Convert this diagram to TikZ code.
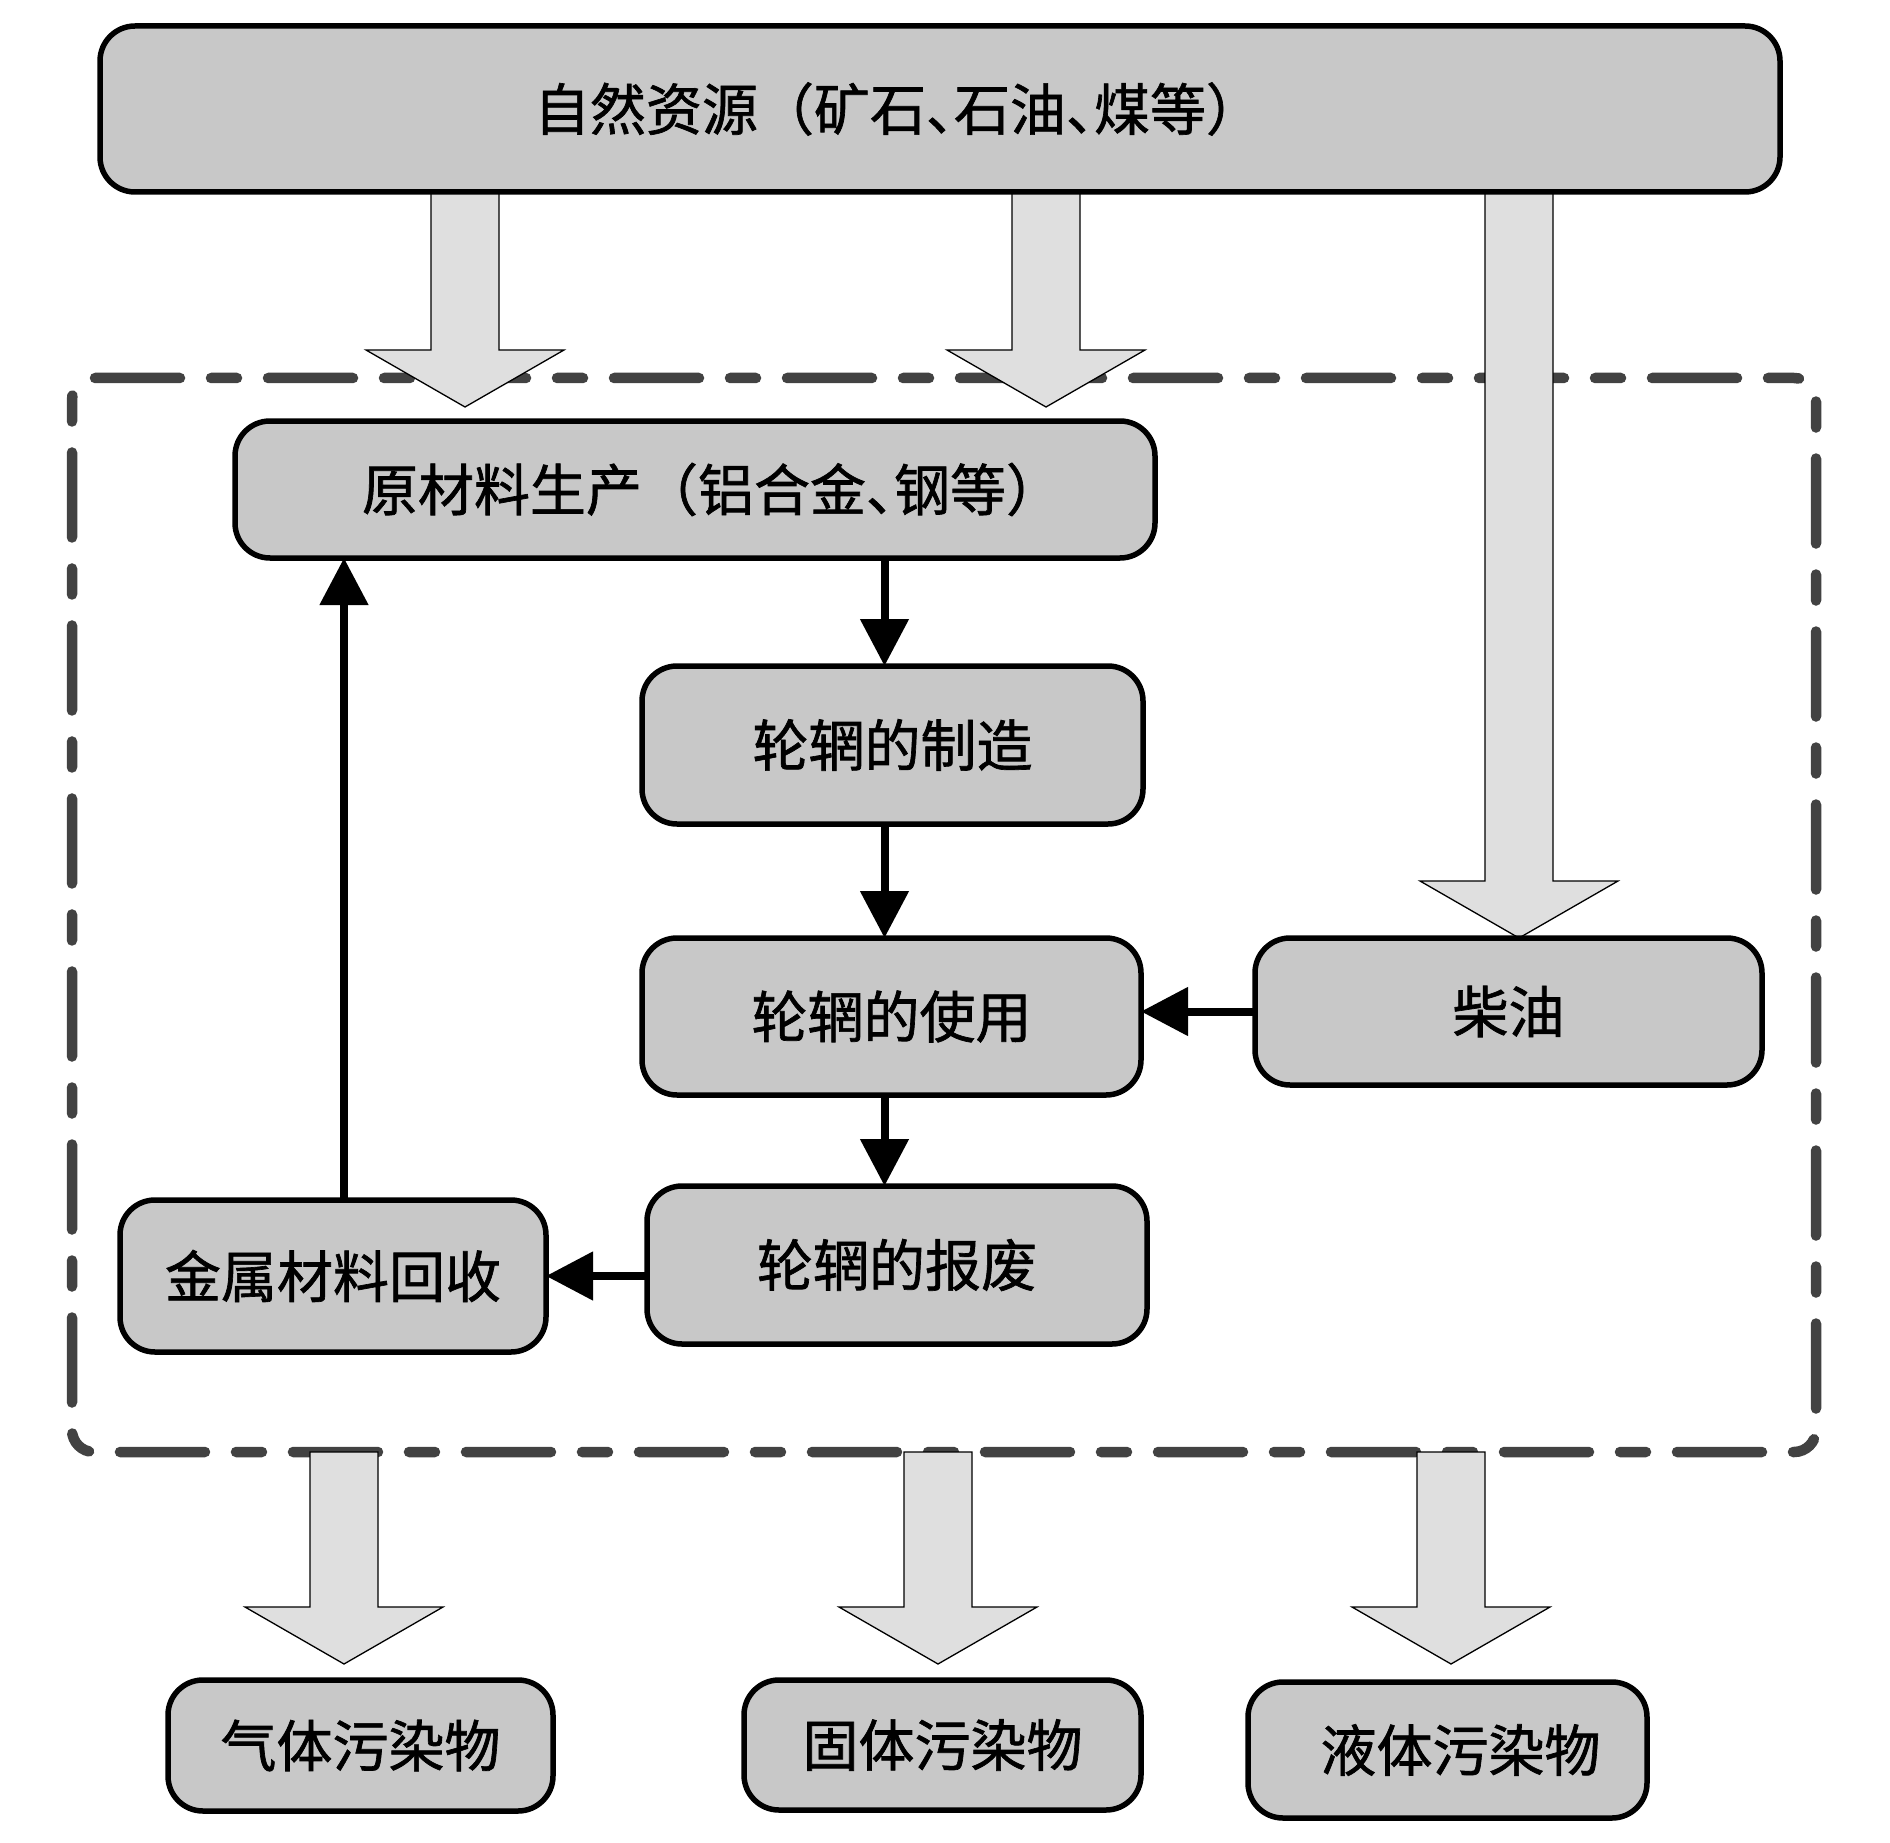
\documentclass[tikz,border=0pt]{standalone}
\usepackage{fontspec}
\newfontfamily\cjk[FakeBold=1.2]{Noto Sans CJK SC}
\usetikzlibrary{arrows.meta,calc}
\definecolor{boxgray}{RGB}{200,200,200}
\definecolor{arrgray}{RGB}{223,223,223}
\definecolor{dashgray}{RGB}{66,66,66}
\newcommand\dun{\makebox[0.5em][l]{、}}
\newcommand\tsh[2]{\makebox[0pt]{\hspace*{#1}#2}}
\newcommand\barrow[2]{%
  \path[blk] let \p1=(#1), \p2=(#2) in
    (\x1-34pt,\y1) -- (\x1-34pt,\y2+57pt) -- (\x1-99pt,\y2+57pt) -- (\x2,\y2)
    -- (\x1+99pt,\y2+57pt) -- (\x1+34pt,\y2+57pt) -- (\x1+34pt,\y1) -- cycle;}
\begin{document}
\begin{tikzpicture}[x=1pt,y=-1pt,
  box/.style={draw=black, line width=5.5pt, fill=boxgray, rounded corners=35pt,
    rectangle, inner sep=0pt, outer sep=0pt,
    font=\cjk\fontsize{56}{60}\selectfont, text=black},
  blk/.style={draw=black, line width=1.3pt, fill=arrgray, line join=miter},
  flow/.style={draw=black, line width=8pt, -{Triangle[length=47pt,width=47pt]}},
  sysbox/.style={draw=dashgray, line width=10.5pt, line cap=round,
    dash pattern=on 26pt off 31pt on 85pt off 31pt, rounded corners=22pt,
    rectangle, inner sep=0pt, outer sep=0pt}
]
\useasboundingbox (0,0) rectangle (1890,1843);
\fill[white] (0,0) rectangle (1890,1843);

% dashed system boundary
\node[sysbox, minimum width=1744pt, minimum height=1074pt] (sys) at (944,915) {};

% block arrows
\coordinate (a1s) at (465,192);  \coordinate (a1t) at (465,407);
\coordinate (a2s) at (1046,192); \coordinate (a2t) at (1046,407);
\coordinate (a3s) at (1519,192); \coordinate (a3t) at (1519,938);
\coordinate (a4s) at (344,1452); \coordinate (a4t) at (344,1664);
\coordinate (a5s) at (938,1452); \coordinate (a5t) at (938,1664);
\coordinate (a6s) at (1451,1452); \coordinate (a6t) at (1451,1664);
\barrow{a1s}{a1t}
\barrow{a2s}{a2t}
\barrow{a3s}{a3t}
\barrow{a4s}{a4t}
\barrow{a5s}{a5t}
\barrow{a6s}{a6t}

% boxes
\node[box, minimum width=1680pt, minimum height=166pt] (top) at (940,109)
  {\tsh{-84pt}{自然资源（矿石\dun 石油\dun 煤等）}};
\node[box, minimum width=920pt, minimum height=137pt] (raw) at (695,489.5)
  {\tsh{34pt}{原材料生产（铝合金\dun 钢等）}};
\node[box, minimum width=501pt, minimum height=158pt] (mfg) at (892.5,745) {轮辋的制造};
\node[box, minimum width=499pt, minimum height=157pt] (use) at (891.5,1016.5) {轮辋的使用};
\node[box, minimum width=500pt, minimum height=158pt] (scrap) at (897,1265) {轮辋的报废};
\node[box, minimum width=426pt, minimum height=152pt] (recyc) at (333,1276) {金属材料回收};
\node[box, minimum width=507pt, minimum height=147pt] (diesel) at (1508.5,1011.5) {柴油};
\node[box, minimum width=385pt, minimum height=131pt] (gas) at (360.5,1745.5) {气体污染物};
\node[box, minimum width=397pt, minimum height=130pt] (solid) at (942.5,1745) {固体污染物};
\node[box, minimum width=399pt, minimum height=136pt] (liquid) at (1447.5,1750)
  {\tsh{26pt}{液体污染物}};

% flow arrows
\coordinate (c1) at ([xshift=-8pt]mfg.north);
\coordinate (c2) at ([xshift=11pt]recyc.north);
\draw[flow] (c1 |- raw.south) -- (c1);
\draw[flow] (c1 |- mfg.south) -- (c1 |- use.north);
\draw[flow] (c1 |- use.south) -- (c1 |- scrap.north);
\draw[flow] (diesel.west) -- (diesel.west -| use.east);
\draw[flow] (recyc.east -| scrap.west) -- (recyc.east);
\draw[flow] (c2) -- (c2 |- raw.south);
\end{tikzpicture}
\end{document}
